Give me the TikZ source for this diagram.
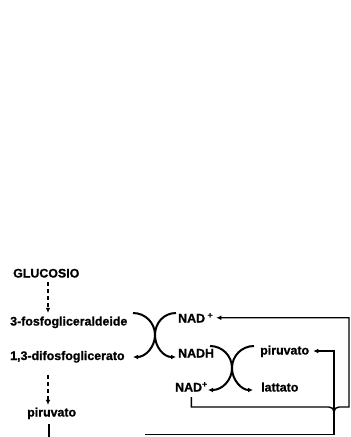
\documentclass[tikz,border=0pt]{standalone}
\usepackage{fontspec}
\setmainfont{Liberation Sans}
\newfontfamily\labelfont{Liberation Sans Bold}[FakeBold=0.9]
\usetikzlibrary{arrows.meta,calc}
\begin{document}
\begin{tikzpicture}[x=1pt,y=-1pt,
  lbl/.style={anchor=base west,inner sep=0pt,font=\labelfont\fontsize{12.4}{14}\selectfont},
  tip/.style={-{Latex[length=5pt,width=4.8pt]}},
  flow/.style={line width=1.4pt},
  conn/.style={flow,tip},
  dashflow/.style={flow,tip,dash pattern=on 4pt off 3pt},
  couple/.style={line width=2pt,tip}]
\useasboundingbox (0,0) rectangle (351,437);
\clip (0,0) rectangle (351,437);

% glycolysis column
\node[lbl] (gluc) at (13,277.5) {GLUCOSIO};
\node[lbl] (tfg)  at (10,325.5) {3-fosfogliceraldeide};
\node[lbl] (dfg)  at (10,360)   {1,3-difosfoglicerato};
\node[lbl] (pirL) at (27,416.5) {piruvato};

% coenzyme and lactate side
\node[lbl] (nadtop) at (178,322.5) {NAD\hspace{2.5pt}\textsuperscript{+}};
\node[lbl] (nadh)   at (178,357.5) {NADH};
\node[lbl] (nadlow) at (175,391.5) {NAD\textsuperscript{+}};
\node[lbl] (pirR)   at (260,354.5) {piruvato};
\node[lbl] (latt)   at (261,391.5) {lattato};

% dashed steps of the pathway
\coordinate (col) at (48,0);
\draw[dashflow] ([yshift=-4.5pt]gluc.south -| col) -- ([yshift=3.5pt]tfg.north -| col);
\draw[dashflow] ([yshift=-12pt]dfg.south -| col) -- ([yshift=2.5pt]pirL.north -| col);

% solid line leaving the lower pyruvate
\coordinate (col2) at (49,0);
\coordinate (lowend) at (49,445);
\draw[flow] ([yshift=-5pt]pirL.south -| col2) -- (lowend);

% coupled reaction: oxidation of glyceraldehyde-3-P with NAD+ reduction
\draw[couple] (133,313) .. controls (145.2,313) and (155,322.8) .. (155,335)
                        .. controls (155,347.2) and (145.2,357) .. (133,357);
\draw[couple] (176,313) .. controls (163.8,313) and (155,322.8) .. (155,335)
                        .. controls (155,347.2) and (163.8,357) .. (176,357);

% coupled reaction: pyruvate reduction with NADH oxidation
\draw[couple] (210,346) .. controls (222.2,346) and (232,355.8) .. (232,368)
                        .. controls (232,380.2) and (222.2,390) .. (208,390);
\draw[couple] (254,346) .. controls (241.8,346) and (232,355.8) .. (232,368)
                        .. controls (232,380.2) and (241.8,390) .. (253,390);

% NAD+ recycled back to the top, hopping over the pyruvate line
\coordinate (hopL) at (329,407);
\coordinate (hopM) at (334,412);
\coordinate (hopR) at (339,407);
\coordinate (rt)   at (349,407);
\draw[conn,shorten >=3pt] ([yshift=-5.5pt]nadlow.south) -- (nadlow.south |- hopL) -- (hopL)
   .. controls (332,407) and (334,409) .. (hopM)
   .. controls (334,409) and (336,407) .. (hopR) -- (rt) |- (nadtop.east);

% pyruvate carried round to the lactate reaction
\coordinate (botL) at (145,434.5);
\coordinate (turn) at (334,351);
\draw[conn,shorten >=4pt] (botL) -| (turn) -- (turn -| pirR.east);
\end{tikzpicture}
\end{document}
